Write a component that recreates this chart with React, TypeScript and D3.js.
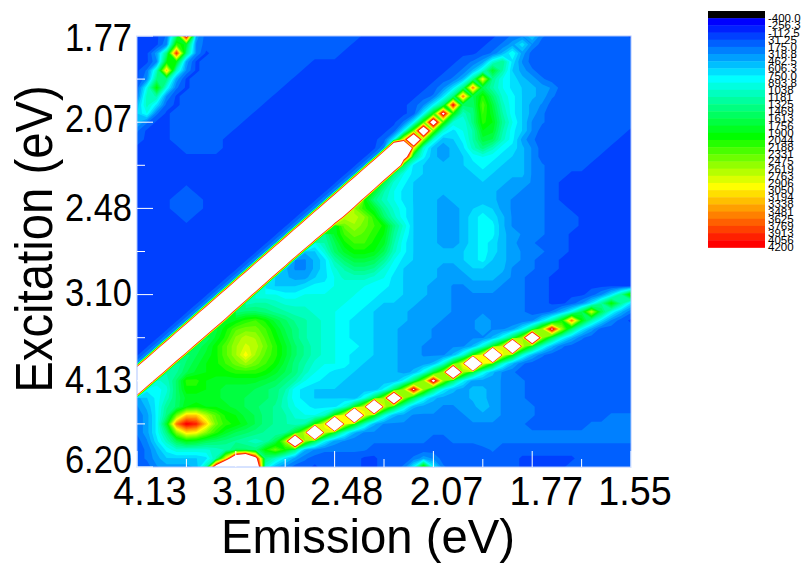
import React from "react";
import * as d3 from "d3";

// Excitation rows run 700 -> 200 nm, emission columns 300 -> 800 nm, 10 nm step. Values in hundreds of counts.
const emissionStart = 300;
const excitationStart = 700;
const gridStep = 10;
const countUnit = 100;

const levels = [-400, -256.3, -112.5, 31.25, 175, 318.8, 462.5, 606.3, 750, 893.8, 1038, 1181, 1325, 1469, 1613, 1756, 1900, 2044, 2188, 2331, 2475, 2619, 2763, 2906, 3050, 3194, 3338, 3481, 3625, 3769, 3913, 4056, 4200];
const levelLabels = ["-400.0", "-256.3", "-112.5", "31.25", "175.0", "318.8", "462.5", "606.3", "750.0", "893.8", "1038", "1181", "1325", "1469", "1613", "1756", "1900", "2044", "2188", "2331", "2475", "2619", "2763", "2906", "3050", "3194", "3338", "3481", "3625", "3769", "3913", "4056", "4200"];

const xMajor = [300, 400, 500, 600, 700, 800];
const xMinor = [350, 450, 550, 650, 750];
const xLabels = ["4.13", "3.10", "2.48", "2.07", "1.77", "1.55"];
const yMajor = [700, 600, 500, 400, 300, 200];
const yMinor = [650, 550, 450, 350, 250];
const yLabels = ["1.77", "2.07", "2.48", "3.10", "4.13", "6.20"];

const rows: number[][] = [
  [0,0,0,2,15,45,4,1,1,1, 1,1,1,1,1,1,1,1,1,1, 1,1,1,0,0,0,0,0,0,0, 0,0,0,0,0,0,0,1,2,3, 6,2,1,1,1,1,1,1,1,1, 0],
  [0,0,0,3,22,18,3,1,1,1, 1,1,1,1,1,1,1,1,1,1, 1,1,0,0,0,0,0,0,0,0, 0,0,0,0,0,0,1,2,4,7, 3,1,1,1,1,1,1,1,1,1, 1],
  [0,0,4,14,40,14,3,0,1,1, 1,1,1,1,1,1,1,1,1,1, 1,0,0,0,0,0,0,0,0,0, 0,0,0,0,0,1,2,5,9,4, 1,1,1,1,1,1,1,1,1,1, 1],
  [0,0,3,19,19,4,0,1,1,1, 1,1,1,1,1,1,1,1,0,0, 0,0,0,0,0,0,0,0,0,0, 0,0,0,1,2,4,10,13,7,3, 1,1,1,1,1,1,1,1,1,1, 1],
  [0,2,11,33,11,3,0,1,1,1, 1,1,1,1,1,1,1,0,0,0, 0,0,0,0,0,0,0,0,0,0, 0,0,1,2,5,10,18,12,6,4, 2,1,1,1,1,1,1,1,1,1, 1],
  [0,3,14,14,4,0,1,1,1,1, 1,1,1,1,1,1,0,0,0,0, 0,0,0,0,0,0,0,0,0,0, 0,1,2,5,13,30,13,9,7,5, 4,2,1,1,1,1,1,1,1,1, 1],
  [1,9,20,9,2,0,1,1,1,1, 1,1,1,1,1,0,0,0,0,0, 0,0,0,0,0,0,0,0,0,0, 1,3,7,14,36,16,12,9,7,6, 5,4,3,1,1,1,1,1,1,1, 1],
  [2,11,12,3,0,1,1,1,1,1, 1,1,1,1,0,0,0,0,0,0, 0,0,0,0,0,0,0,0,0,1, 2,7,14,36,16,21,15,10,8,6, 5,4,2,1,1,1,1,1,1,1, 1],
  [5,11,7,1,0,1,1,1,1,1, 1,1,1,0,0,0,0,0,0,0, 0,0,0,0,0,0,0,0,1,3, 8,15,42,15,15,23,17,11,8,6, 4,3,1,1,1,1,1,1,1,1, 1],
  [6,9,2,0,1,1,1,1,1,1, 1,1,0,0,0,0,0,0,0,0, 0,0,0,0,0,0,0,0,1,8, 20,46,20,11,14,22,18,12,8,6, 4,2,1,1,1,1,1,1,1,1, 1],
  [5,2,0,0,1,1,1,1,1,1, 1,0,0,0,0,0,0,0,0,0, 0,0,0,0,0,0,0,2,8,22, 52,22,10,9,14,21,19,13,9,6, 3,2,1,1,1,1,1,1,1,1, 1],
  [2,0,0,0,1,1,1,1,1,1, 0,0,0,0,0,0,0,0,0,0, 0,0,0,0,0,0,1,8,24,60, 24,10,7,9,12,19,18,12,8,6, 3,1,1,1,1,1,1,1,1,1, 0],
  [1,0,0,0,1,1,1,1,1,0, 0,0,0,0,0,0,0,0,0,0, 0,0,0,0,0,1,8,30,70,26, 10,5,6,8,12,17,16,11,8,4, 2,1,1,1,1,1,1,1,1,0, 0],
  [0,0,0,0,0,1,1,1,1,0, 0,0,0,0,0,0,0,0,0,0, 0,0,0,0,0,3,100,100,30,10, 5,4,5,7,11,14,11,8,7,5, 3,1,1,1,1,1,1,1,0,0, 0],
  [0,0,0,0,0,0,0,0,0,0, 0,0,0,0,0,0,0,0,0,0, 0,0,0,0,3,100,100,55,15,8, 5,4,5,6,8,9,8,7,6,5, 3,1,1,1,1,1,1,0,0,0, 0],
  [0,0,0,0,0,0,0,0,0,0, 0,0,0,0,0,0,0,0,0,0, 0,0,0,3,100,100,100,15,7,6, 5,5,5,6,7,8,7,6,5,5, 3,2,1,1,1,1,0,0,0,0, 0],
  [0,0,0,0,0,0,0,0,0,0, 0,0,0,0,0,0,0,0,0,0, 0,0,3,100,100,100,14,9,7,6, 5,5,5,5,6,7,6,6,5,5, 3,2,1,1,0,0,0,0,0,0, 0],
  [0,0,0,0,0,0,0,0,0,0, 0,0,0,0,0,0,0,0,0,0, 0,3,100,100,100,16,10,8,6,5, 5,5,5,5,6,6,6,5,4,4, 3,2,1,0,0,0,0,0,0,0, 0],
  [0,0,0,0,0,1,0,0,0,0, 0,0,0,0,0,0,0,0,0,0, 3,100,100,100,18,12,9,7,6,5, 5,5,5,5,5,5,5,4,4,3, 3,2,1,0,0,0,0,0,0,0, 0],
  [0,0,0,0,1,1,1,0,0,0, 0,0,0,0,0,0,0,0,0,3, 100,100,100,20,14,11,9,7,6,5, 5,4,5,5,5,5,5,4,3,3, 3,2,1,0,0,0,0,0,0,0, 0],
  [0,0,0,0,1,1,1,0,0,0, 0,0,0,0,0,0,0,0,3,100, 100,100,25,21,18,13,10,8,6,5, 5,4,4,5,6,7,6,4,3,3, 2,2,1,1,0,0,0,0,0,0, 0],
  [0,0,0,0,0,1,0,0,0,0, 0,0,0,0,0,0,0,3,100,100, 100,27,27,25,21,15,11,8,6,5, 5,4,4,5,7,8,7,5,3,3, 2,2,1,1,1,0,0,0,0,0, 0],
  [0,0,0,0,0,0,0,0,0,0, 0,0,0,0,0,0,3,100,100,100, 18,24,26,24,22,20,14,10,6,5, 5,4,4,5,7,8,8,5,3,3, 2,2,1,1,1,0,0,0,0,0, 0],
  [0,0,0,0,0,0,0,0,0,0, 0,0,0,0,0,3,100,100,100,13, 18,22,24,23,21,19,13,9,6,5, 5,4,4,5,7,8,8,5,4,3, 2,2,1,1,0,0,0,0,0,0, 0],
  [0,0,0,0,0,0,0,0,0,0, 0,0,0,0,3,100,100,100,9,12, 16,20,22,22,20,18,12,8,6,5, 5,4,4,5,7,8,7,5,4,2, 2,1,1,1,0,0,0,0,0,0, 0],
  [0,0,0,0,0,0,0,0,0,0, 0,0,0,3,100,100,100,5,6,10, 15,18,20,20,19,16,11,8,6,5, 5,5,5,6,7,8,7,5,4,3, 2,2,1,1,0,0,0,0,0,0, 0],
  [0,0,0,0,0,0,0,0,0,0, 0,0,3,100,100,100,3,3,5,7, 12,15,17,17,16,13,9,7,6,5, 5,5,5,6,7,8,6,5,4,3, 2,1,1,0,0,0,0,0,0,0, 0],
  [0,0,0,0,0,0,0,0,0,0, 0,3,100,100,100,5,3,3,5,7, 10,12,14,14,13,10,8,6,6,5, 5,4,4,5,6,6,5,5,3,2, 2,1,1,0,0,0,0,0,0,0, 0],
  [0,0,0,0,0,0,0,0,0,0, 3,100,100,100,6,5,4,4,6,7, 9,11,11,11,10,9,7,6,6,5, 5,4,4,4,5,5,5,4,3,2, 1,1,0,0,0,0,0,0,0,0, 0],
  [0,0,0,0,0,0,0,0,0,3, 100,100,100,7,6,6,6,7,8,8, 9,9,9,9,8,8,7,6,5,5, 4,4,3,3,4,4,4,3,3,2, 1,1,0,0,0,0,0,0,0,0, 0],
  [0,0,0,0,0,0,0,0,3,100, 100,100,9,9,9,8,8,9,9,9, 9,9,9,8,8,7,7,6,5,5, 4,4,3,3,3,3,3,3,2,2, 1,1,0,0,0,0,1,3,7,13, 22],
  [0,0,0,0,0,0,0,3,100,100, 100,11,12,12,11,10,10,10,9,9, 9,9,8,8,7,6,6,5,5,4, 4,4,3,3,3,3,3,2,2,2, 1,1,0,0,1,3,7,13,20,13, 7],
  [0,0,0,0,0,0,3,100,100,100, 14,15,15,14,13,12,11,11,10,9, 9,8,8,7,6,6,5,5,4,4, 4,4,3,3,3,3,3,3,2,2, 1,1,2,5,9,16,28,16,9,5, 2],
  [0,0,0,0,0,3,100,100,100,18, 19,21,22,20,17,15,13,12,11,10, 9,8,7,7,6,6,5,5,4,4, 4,3,3,3,3,4,3,3,2,2, 3,7,12,20,36,20,12,7,3,1, 0],
  [0,0,0,0,3,100,100,100,17,20, 23,24,24,22,19,16,14,12,11,10, 9,8,7,7,6,6,5,4,4,4, 3,3,3,3,3,4,3,3,4,8, 15,26,44,26,15,8,4,1,1,1, 1],
  [0,0,0,3,100,100,100,15,18,21, 25,27,26,23,20,17,14,12,11,10, 9,8,7,7,6,6,5,4,4,4, 3,3,3,3,3,3,5,9,16,26, 85,26,16,9,5,2,1,1,1,1, 1],
  [0,0,3,100,100,100,15,17,20,23, 26,28,27,24,21,18,15,13,11,10, 9,8,8,7,6,6,5,4,4,3, 3,3,3,3,5,10,18,28,130,28, 18,10,5,2,1,1,1,1,1,1, 1],
  [0,3,100,100,100,14,16,18,20,23, 26,30,26,23,21,18,15,13,11,10, 9,8,7,7,6,5,5,4,4,3, 3,3,5,10,20,30,160,30,20,10, 5,2,1,1,1,1,1,1,1,1, 1],
  [3,100,100,100,12,15,17,19,20,22, 24,26,24,22,20,17,14,12,10,9, 9,8,7,6,6,5,5,4,4,4, 5,10,20,30,160,30,20,10,5,2, 1,1,1,1,1,1,1,1,1,1, 1],
  [100,100,100,12,13,16,18,19,20,20, 21,21,21,20,18,16,14,11,9,8, 7,7,6,6,6,5,5,4,5,9, 17,26,100,26,17,9,5,3,2,1, 1,1,1,1,1,1,1,1,1,1, 1],
  [100,100,10,11,15,21,21,19,18,18, 18,18,18,17,16,14,12,9,8,7, 7,6,6,6,5,5,5,8,15,26, 46,26,15,8,4,4,4,3,2,2, 1,1,1,1,1,1,1,1,1,1, 1],
  [100,8,8,10,15,20,20,19,18,17, 17,17,16,15,14,12,8,7,6,6, 6,6,5,5,5,8,15,26,44,26, 15,8,5,4,5,5,4,3,3,2, 1,1,1,1,1,1,1,1,1,1, 1],
  [4,6,8,11,15,18,18,18,18,17, 17,16,16,15,14,11,8,7,6,6, 6,6,5,9,16,26,85,26,16,9, 5,4,4,4,5,5,4,3,3,2, 1,1,1,1,1,1,1,1,1,1, 1],
  [3,5,8,13,15,19,20,19,19,18, 17,16,15,14,13,11,9,8,7,7, 7,10,18,28,130,28,18,10,5,4, 4,3,3,4,4,6,4,3,3,2, 2,1,1,1,1,1,1,1,1,1, 1],
  [2,4,8,14,24,32,32,27,23,20, 19,17,16,14,13,12,10,9,9,11, 20,30,150,30,20,10,5,4,3,3, 3,3,3,3,4,4,4,3,3,2, 2,1,1,1,1,1,1,1,2,2, 2],
  [2,4,8,18,36,42,40,32,24,21, 20,18,16,14,13,12,11,12,20,30, 150,30,20,11,5,3,3,3,3,3, 3,3,3,3,3,3,3,3,2,2, 1,1,1,1,1,1,2,2,2,2, 2],
  [2,4,8,14,25,31,30,25,21,18, 16,15,14,13,12,13,18,28,130,28, 18,10,5,3,3,3,3,3,3,3, 2,2,2,3,3,3,3,3,3,2, 2,2,2,2,2,2,2,2,2,2, 2],
  [1,3,7,11,16,19,18,16,15,14, 13,12,11,12,16,26,85,26,16,8, 4,3,2,2,2,2,2,2,2,2, 1,1,2,2,2,3,3,2,2,2, 2,2,2,2,2,2,2,2,2,2, 2],
  [1,2,5,8,10,10,10,10,11,12, 15,15,14,20,24,20,14,5,3,2, 2,2,2,2,1,1,1,1,1,1, 1,1,1,1,1,1,2,1,1,1, 1,1,1,1,1,1,1,1,1,1, 1],
  [1,2,4,6,6,6,6,7,12,30, 60,70,46,14,11,7,4,2,1,1, 1,1,1,0,0,1,1,1,2,4, 3,1,1,1,1,1,1,1,1,0, 0,0,0,0,0,1,1,1,1,1, 1],
  [1,1,3,4,4,4,5,12,50,80, 100,100,60,10,5,3,1,1,0,1, 1,1,1,0,0,1,1,2,8,22, 8,2,1,1,1,1,1,1,1,0, 0,0,0,0,1,1,1,1,1,1, 1],
];

const plot = { left: 137, right: 631, top: 36, bottom: 467 };
const fontFamily = "'Liberation Sans', Arial, sans-serif";

const x = d3.scaleLinear().domain([300, 800]).range([plot.left, plot.right]);
const y = d3.scaleLinear().domain([700, 200]).range([plot.top, plot.bottom]);

const ramp = d3.scaleLinear<string>()
  .domain([1, 9, 17, 24, 32])
  .range(["#0000ff", "#00ffff", "#00ff00", "#ffff00", "#ff0000"])
  .interpolate(d3.interpolateRgb as any);
const swatchColor = (k: number) => (k === 0 ? "#000000" : ramp(k));

const legendScale = d3.scaleLinear().domain([0, 32]).range([18.2, 247.4]);
const xLabelOffset = [13, 13, 12, 13, 14, 4];
const yLabelBaseline = [51, 132, 221, 306, 393, 473];

export default function App() {
  const nCols = rows[0].length;
  const nRows = rows.length;
  const flat = rows.flat().map((v) => v * countUnit);
  const contours = d3.contours().size([nCols, nRows]).thresholds(levels)(flat);
  const projection = d3.geoTransform({
    point(this: any, cx: number, cy: number) {
      this.stream.point(
        x(emissionStart + (cx - 0.5) * gridStep),
        y(excitationStart - (cy - 0.5) * gridStep)
      );
    },
  });
  const path = d3.geoPath(projection);

  return (
    <svg width={803} height={567} style={{ position: "absolute", left: 0, top: 0, background: "#fff" }}>
      <defs>
        <clipPath id="plot-clip">
          <rect x={plot.left} y={plot.top} width={plot.right - plot.left} height={plot.bottom - plot.top} />
        </clipPath>
      </defs>
      <g clipPath="url(#plot-clip)">
        {contours.map((c, k) => (
          <path key={k} d={path(c as any) || ""} fill={k === levels.length - 1 ? "#ffffff" : swatchColor(k + 1)} />
        ))}
      </g>
      <rect x={plot.left} y={plot.top} width={plot.right - plot.left} height={plot.bottom - plot.top} fill="none" stroke="#aec6ff" strokeWidth={1} />

      {xMajor.map((t) => (
        <line key={t} x1={x(t)} x2={x(t)} y1={plot.bottom} y2={plot.bottom - 16} stroke="#fff" strokeWidth={1} />
      ))}
      {xMinor.map((t) => (
        <line key={t} x1={x(t)} x2={x(t)} y1={plot.bottom} y2={plot.bottom - 8} stroke="#fff" strokeWidth={1} />
      ))}
      {yMajor.map((t) => (
        <line key={t} x1={plot.left} x2={plot.left + 16} y1={y(t)} y2={y(t)} stroke="#fff" strokeWidth={1} />
      ))}
      {yMinor.map((t) => (
        <line key={t} x1={plot.left} x2={plot.left + 8} y1={y(t)} y2={y(t)} stroke="#fff" strokeWidth={1} />
      ))}

      {xMajor.map((t, i) => (
        <text key={t} transform={`translate(${x(t) + xLabelOffset[i]},505) scale(0.92,1)`} textAnchor="middle" fontFamily={fontFamily} fontSize={41} fill="#000">{xLabels[i]}</text>
      ))}
      {yMajor.map((t, i) => (
        <text key={t} transform={`translate(132,${yLabelBaseline[i]}) scale(0.895,1)`} textAnchor="end" fontFamily={fontFamily} fontSize={38.5} fill="#000">{yLabels[i]}</text>
      ))}
      <text transform="translate(368,553) scale(0.965,1)" textAnchor="middle" fontFamily={fontFamily} fontSize={49} fill="#000">Emission (eV)</text>
      <text transform="translate(52,239) rotate(-90) scale(0.91,1)" textAnchor="middle" fontFamily={fontFamily} fontSize={52} fill="#000">Excitation (eV)</text>

      {levels.map((_, k) => (
        <rect key={k} x={708} y={k === 0 ? legendScale(0) - 7.2 : legendScale(k - 1)} width={57} height={7.6} fill={swatchColor(k)} />
      ))}
      {levelLabels.map((label, k) => (
        <text key={label} x={768} y={legendScale(k) + 4} fontFamily={fontFamily} fontSize={11.5} fill="#000">{label}</text>
      ))}
    </svg>
  );
}
